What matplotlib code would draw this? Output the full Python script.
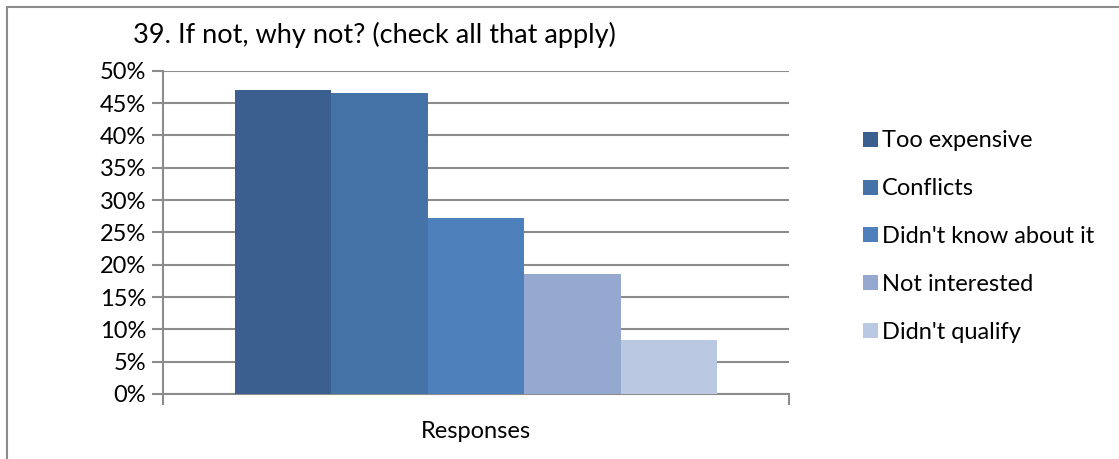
import matplotlib
matplotlib.use("Agg")
import matplotlib.pyplot as plt
from matplotlib.patches import Rectangle
from matplotlib.ticker import FuncFormatter

categories = ["Responses"]
series = ["Too expensive", "Conflicts", "Didn't know about it", "Not interested", "Didn't qualify"]
values = [47.0, 46.6, 27.2, 18.5, 8.4]
colors = ["#3B5F8F", "#4573A8", "#4E80BC", "#95A9D0", "#BBC8E1"]
yticks = [0, 5, 10, 15, 20, 25, 30, 35, 40, 45, 50]
title = "39. If not, why not? (check all that apply)"

W, H = 1119, 459
fig = plt.figure(figsize=(W / 100, H / 100), dpi=100)
plt.rcParams['font.family'] = ['Lato', 'DejaVu Sans']

ax = fig.add_axes([163 / W, 1 - 394 / H, (789 - 163) / W, (394 - 70.7) / H])
grid_c = "#8C8C8C"
w = 0.154
for i, (s, v, c) in enumerate(zip(series, values, colors)):
    ax.bar(0.5 + (i - 2) * w, v, width=w, color=c, label=s, zorder=3, linewidth=0)

ax.set_xlim(0, 1)
ax.set_ylim(0, 50)
ax.set_yticks(yticks)
ax.yaxis.set_major_formatter(FuncFormatter(lambda v, p: f"{int(v)}%"))
ax.yaxis.grid(True, color=grid_c, linewidth=1.5, zorder=0)
ax.set_xticks([0, 1])
ax.set_xticklabels(["", ""])
ax.tick_params(axis='x', length=8, width=1.5, color=grid_c, direction='out')
ax.tick_params(axis='y', length=8, width=1.5, color=grid_c, direction='out', labelsize=17, pad=4)
for sp in ["top", "right"]:
    ax.spines[sp].set_visible(False)
for sp in ["left", "bottom"]:
    ax.spines[sp].set_color(grid_c)
    ax.spines[sp].set_linewidth(1.5)
ax.text(0.5, -0.115, categories[0], transform=ax.transAxes, ha='center', va='center', fontsize=17)

fig.text(133 / W, 1 - 35 / H, title, ha='left', va='center', fontsize=19.5)

leg = fig.legend(loc='upper left', bbox_to_anchor=(854 / W, 1 - 121 / H), frameon=False,
                 fontsize=17, handlelength=0.6, handleheight=0.6, handletextpad=0.2,
                 labelspacing=1.14, borderaxespad=0)

fig.patches.append(Rectangle((7 / W, -0.1), 1.2, 1 - 7 / H + 0.1, transform=fig.transFigure,
                             fill=False, edgecolor=grid_c, linewidth=1.5))
fig.savefig("out.png", dpi=100)
